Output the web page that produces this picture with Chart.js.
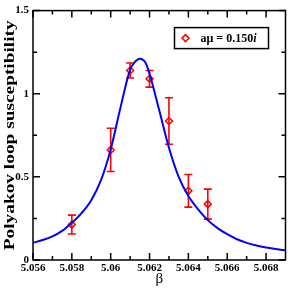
<!DOCTYPE html>
<html>
<head>
<meta charset="utf-8">
<script src="https://cdn.jsdelivr.net/npm/chart.js@4/dist/chart.umd.min.js"></script>
<style>
html,body{margin:0;padding:0;background:#fff;}
#wrap{width:291px;height:289px;position:relative;}
</style>
</head>
<body>
<div id="wrap"><canvas id="c" width="291" height="289"></canvas></div>
<script>
// Data points (beta, susceptibility, error)
const pointBeta = [5.058, 5.060, 5.061, 5.062, 5.063, 5.064, 5.065];
const pointChi  = [0.213, 0.662, 1.140, 1.090, 0.836, 0.416, 0.336];
const pointErr  = [0.057, 0.130, 0.045, 0.050, 0.140, 0.098, 0.090];

// Fitted curve
const curveBeta = [5.056, 5.0565, 5.057, 5.0575, 5.058, 5.0585, 5.059, 5.0595, 5.060, 5.0605, 5.061, 5.0612, 5.0615, 5.0618, 5.062, 5.0625, 5.063, 5.0635, 5.064, 5.0645, 5.065, 5.0655, 5.066, 5.0665, 5.067, 5.0675, 5.068, 5.0685, 5.069];
const curveChi  = [0.104, 0.120, 0.142, 0.175, 0.224, 0.282, 0.360, 0.480, 0.665, 0.915, 1.145, 1.185, 1.210, 1.185, 1.120, 0.900, 0.675, 0.500, 0.385, 0.305, 0.240, 0.192, 0.155, 0.125, 0.103, 0.087, 0.075, 0.066, 0.058];

// Tick values / labels
const xMajor = [5.056, 5.058, 5.060, 5.062, 5.064, 5.066, 5.068];
const xLabels = ['5.056', '5.058', '5.06', '5.062', '5.064', '5.066', '5.068'];
const xMinor = [5.057, 5.059, 5.061, 5.063, 5.065, 5.067];
const yMajor = [0, 0.5, 1, 1.5];
const yLabels = ['0', '0.5', '1', '1.5'];
const yMinor = [0.25, 0.75, 1.25];

const yTitle = 'Polyakov loop susceptibility';
const legendLabel = 'a\u03bc = 0.150';
const legendItalic = 'i';

const SERIF = '"Liberation Serif", "DejaVu Serif", serif';

const framePlugin = {
  id: 'frame',
  beforeDatasetsDraw(chart) {
    const {ctx, scales:{x, y}} = chart;
    ctx.save();
    ctx.strokeStyle = '#ff0000';
    ctx.lineWidth = 1.6;
    for (let i = 0; i < pointBeta.length; i++) {
      const px = x.getPixelForValue(pointBeta[i]);
      const top = y.getPixelForValue(pointChi[i] + pointErr[i]);
      const bot = y.getPixelForValue(pointChi[i] - pointErr[i]);
      ctx.beginPath();
      ctx.moveTo(px, top); ctx.lineTo(px, bot);
      ctx.moveTo(px - 4, top); ctx.lineTo(px + 4, top);
      ctx.moveTo(px - 4, bot); ctx.lineTo(px + 4, bot);
      ctx.stroke();
    }
    ctx.restore();
  },
  afterDatasetsDraw(chart) {
    const {ctx, chartArea:a, scales:{x, y}} = chart;
    ctx.save();
    ctx.strokeStyle = '#000';
    ctx.lineWidth = 1.5;
    ctx.beginPath();
    const tick = (vals, len) => {
      vals.forEach(v => {
        const px = x.getPixelForValue(v);
        ctx.moveTo(px, a.bottom); ctx.lineTo(px, a.bottom - len);
        ctx.moveTo(px, a.top); ctx.lineTo(px, a.top + len);
      });
    };
    const tickY = (vals, len) => {
      vals.forEach(v => {
        const py = y.getPixelForValue(v);
        ctx.moveTo(a.left, py); ctx.lineTo(a.left + len, py);
        ctx.moveTo(a.right, py); ctx.lineTo(a.right - len, py);
      });
    };
    tick(xMajor, 7); tick(xMinor, 4);
    tickY(yMajor, 7); tickY(yMinor, 4);
    ctx.stroke();
    ctx.strokeRect(a.left, a.top, a.right - a.left, a.bottom - a.top);

    // y-axis title (stretched to match the reference length)
    ctx.save();
    ctx.fillStyle = '#000';
    ctx.font = 'bold 14px ' + SERIF;
    ctx.textAlign = 'center';
    ctx.textBaseline = 'middle';
    const tw = ctx.measureText(yTitle).width;
    const target = 230;
    ctx.translate(10, (a.top + a.bottom) / 2);
    ctx.rotate(-Math.PI / 2);
    ctx.scale(target / tw, 1);
    ctx.fillText(yTitle, 0, 0);
    ctx.restore();

    // legend box
    const bx = a.right - 111, by = a.top + 17, bw = 94, bh = 21;
    ctx.fillStyle = '#fff';
    ctx.fillRect(bx, by, bw, bh);
    ctx.lineWidth = 1.5;
    ctx.strokeRect(bx, by, bw, bh);
    const mx = bx + 11, my = by + bh / 2;
    ctx.strokeStyle = '#ff0000';
    ctx.beginPath();
    ctx.moveTo(mx - 3.5, my); ctx.lineTo(mx, my - 3.5); ctx.lineTo(mx + 3.5, my); ctx.lineTo(mx, my + 3.5); ctx.closePath();
    ctx.stroke();
    ctx.fillStyle = '#000';
    ctx.textBaseline = 'middle';
    ctx.textAlign = 'left';
    ctx.font = 'bold 12px ' + SERIF;
    const tx = bx + 26;
    ctx.fillText(legendLabel, tx, my + 0.5);
    const w = ctx.measureText(legendLabel).width;
    ctx.font = 'italic bold 12px ' + SERIF;
    ctx.fillText(legendItalic, tx + w, my + 0.5);
    ctx.restore();
  }
};

new Chart(document.getElementById('c'), {
  type: 'scatter',
  data: {
    datasets: [
      {
        type: 'line',
        data: curveBeta.map((b, i) => ({x: b, y: curveChi[i]})),
        borderColor: '#0000ff',
        borderWidth: 2,
        pointRadius: 0,
        fill: false,
        cubicInterpolationMode: 'monotone',
        order: 0
      },
      {
        data: pointBeta.map((b, i) => ({x: b, y: pointChi[i]})),
        pointStyle: 'rectRot',
        pointRadius: 3.5,
        pointBorderColor: '#ff0000',
        pointBackgroundColor: 'rgba(0,0,0,0)',
        pointBorderWidth: 1.5,
        showLine: false,
        order: 1
      }
    ]
  },
  options: {
    responsive: false,
    animation: false,
    devicePixelRatio: 1,
    layout: {padding: {top: 5, right: 1, left: 0, bottom: 0}},
    plugins: {legend: {display: false}, tooltip: {enabled: false}},
    scales: {
      x: {
        type: 'linear',
        min: 5.056, max: 5.069,
        afterBuildTicks: s => { s.ticks = xMajor.map(v => ({value: v})); },
        afterFit: s => { s.height = 29; },
        grid: {display: false, drawTicks: false},
        border: {display: false},
        ticks: {
          autoSkip: false, maxRotation: 0, padding: 2,
          color: '#000',
          font: {family: SERIF, size: 11, weight: 'bold'},
          callback: (v, i) => xLabels[i]
        },
        title: {display: true, text: '\u03b2', color: '#000', font: {family: SERIF, size: 15}, padding: {top: 0, bottom: 1}}
      },
      y: {
        type: 'linear',
        min: 0, max: 1.5,
        afterBuildTicks: s => { s.ticks = yMajor.map(v => ({value: v})); },
        afterFit: s => { s.width = 33; },
        grid: {display: false, drawTicks: false},
        border: {display: false},
        ticks: {
          autoSkip: false, padding: 4,
          color: '#000',
          font: {family: SERIF, size: 11, weight: 'bold'},
          callback: (v, i) => yLabels[i]
        },
        title: {display: false}
      }
    }
  },
  plugins: [framePlugin]
});
</script>
</body>
</html>
